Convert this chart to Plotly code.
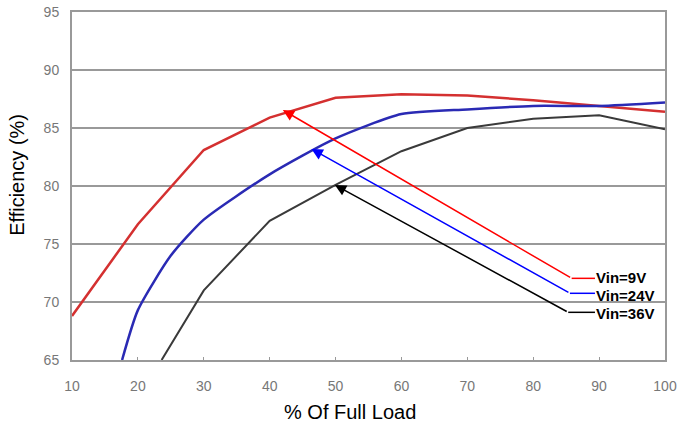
import plotly.graph_objects as go

# ---- data ----
load_9v = [10, 20, 30, 40, 50, 60, 70, 80, 90, 100]
eff_9v = [68.8, 76.7, 83.1, 85.9, 87.6, 87.9, 87.8, 87.4, 86.9, 86.4]

load_24v = [17.6, 20, 25, 30, 40, 50, 60, 70, 80, 90, 100]
eff_24v = [65.0, 69.3, 74.0, 77.1, 81.0, 84.1, 86.2, 86.6, 86.9, 86.9, 87.2]

load_36v = [23.6, 30, 40, 50, 60, 70, 80, 90, 100]
eff_36v = [65.0, 71.0, 77.0, 80.1, 83.0, 85.0, 85.8, 86.1, 84.9]

labels = ["Vin=9V", "Vin=24V", "Vin=36V"]
arrow_colors = ["#ff0000", "#0000ff", "#000000"]
tip_x = [42.0, 46.35, 49.9]
tip_y = [86.55, 83.19, 80.09]
corner_x = [85.83, 85.57, 85.31]
corner_y = [72.04, 70.75, 69.11]
label_y = [72.07, 70.60, 68.97]
label_line_end = 89.37

x_ticks = [10, 20, 30, 40, 50, 60, 70, 80, 90, 100]
y_ticks = [65, 70, 75, 80, 85, 90, 95]

fig = go.Figure()
fig.add_trace(go.Scatter(x=load_9v, y=eff_9v, mode="lines",
                         line=dict(color="#d43030", width=2.5)))
fig.add_trace(go.Scatter(x=load_24v, y=eff_24v, mode="lines",
                         line=dict(color="#2a2ab4", width=2.5, shape="spline", smoothing=0.6)))
fig.add_trace(go.Scatter(x=load_36v, y=eff_36v, mode="lines",
                         line=dict(color="#3a3a3a", width=2)))

for i in range(3):
    fig.add_annotation(x=tip_x[i], y=tip_y[i], ax=corner_x[i], ay=corner_y[i],
                       xref="x", yref="y", axref="x", ayref="y",
                       showarrow=True, arrowhead=2, arrowsize=1.5, arrowwidth=1.5,
                       arrowcolor=arrow_colors[i], text="")
    fig.add_shape(type="line", xref="x", yref="y",
                  x0=corner_x[i], y0=corner_y[i], x1=label_line_end, y1=corner_y[i],
                  line=dict(color=arrow_colors[i], width=1.5))
    fig.add_annotation(x=label_line_end, y=label_y[i], xref="x", yref="y",
                       text="<b>" + labels[i] + "</b>", showarrow=False,
                       xanchor="left", yanchor="middle", xshift=0, borderpad=0,
                       font=dict(family="Arial, Liberation Sans", size=15, color="#000000"))

fig.add_annotation(x=0.469, y=0, xref="paper", yref="paper", yshift=-52,
                   text="% Of Full Load", showarrow=False, xanchor="center", yanchor="middle",
                   font=dict(family="Arial, Liberation Sans", size=20, color="#000000"))
fig.add_annotation(x=0, y=0.532, xref="paper", yref="paper", xshift=-55,
                   text="Efficiency (%)", showarrow=False, textangle=-90,
                   xanchor="center", yanchor="middle",
                   font=dict(family="Arial, Liberation Sans", size=20, color="#000000"))

fig.update_layout(
    width=677, height=427,
    margin=dict(l=72, r=12, t=12, b=67, autoexpand=False),
    plot_bgcolor="white", paper_bgcolor="white",
    showlegend=False,
)
fig.update_xaxes(range=[10, 100], tickvals=x_ticks, showgrid=False, automargin=False,
                 showline=True, linecolor="#999999", linewidth=2, mirror=True,
                 ticks="inside", ticklen=3, tickcolor="#999999", tickwidth=1,
                 ticklabelstandoff=12,
                 tickfont=dict(family="Arial, Liberation Sans", size=14, color="#777777"),
                 zeroline=False)
fig.update_yaxes(range=[65, 95], tickvals=y_ticks, showgrid=True, automargin=False,
                 gridcolor="#999999", gridwidth=2,
                 showline=True, linecolor="#999999", linewidth=2, mirror=True,
                 ticks="inside", ticklen=3, tickcolor="#999999", tickwidth=1,
                 ticklabelstandoff=8,
                 tickfont=dict(family="Arial, Liberation Sans", size=14, color="#777777"),
                 zeroline=False)

fig.write_html("out.html", config={"displayModeBar": False},
               post_script="document.body.style.margin='0';document.body.style.padding='0';document.body.style.overflow='hidden';")
